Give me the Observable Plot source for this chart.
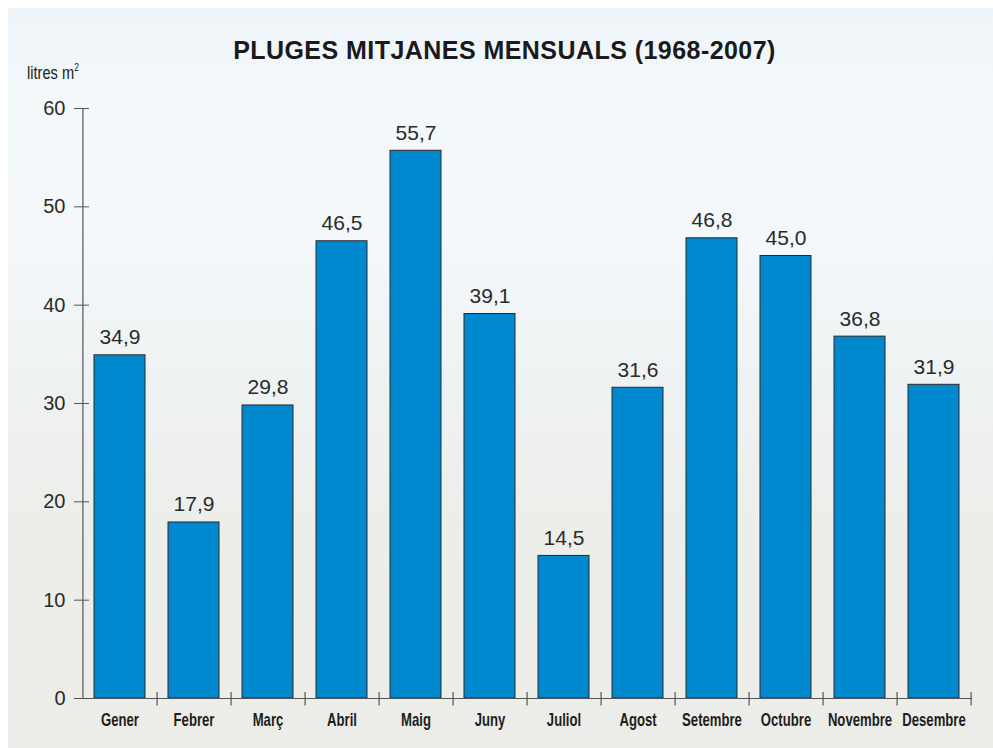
<!DOCTYPE html>
<html>
<head>
<meta charset="utf-8">
<script src="https://cdn.jsdelivr.net/npm/d3@7"></script>
<script src="https://cdn.jsdelivr.net/npm/@observablehq/plot@0.6"></script>
<style>
  html, body { margin: 0; padding: 0; background: #ffffff; }
  #wrap {
    position: absolute; left: 8px; top: 8px; width: 985px; height: 740px;
    background: linear-gradient(180deg, #eef4f8 0%, #f3f8fb 12%, #f4f8fb 30%, #eef2f2 50%, #eceee9 70%, #ecede8 100%);
    overflow: hidden;
  }
  #title {
    position: absolute; left: 4px; width: 985px; top: 27px; text-align: center;
    font-family: "Liberation Sans", Arial, sans-serif;
    font-weight: bold; font-size: 25px; color: #1a1a1a; letter-spacing: 0.45px;
    line-height: 30px;
  }
  #unit {
    position: absolute; left: 19px; top: 48px;
    font-family: "Liberation Sans", Arial, sans-serif;
    font-size: 19px; color: #222; line-height: 22px;
    transform: scaleX(0.77); transform-origin: left;
  }
  #unit sup { font-size: 11px; vertical-align: 8px; }
  #chart { position: absolute; left: 0; top: 0; }
</style>
</head>
<body>
<div id="wrap">
  <div id="chart"></div>
  <div id="title">PLUGES MITJANES MENSUALS (1968-2007)</div>
  <div id="unit">litres m<sup>2</sup></div>
</div>
<script>
const months = ["Gener", "Febrer", "Març", "Abril", "Maig", "Juny", "Juliol", "Agost", "Setembre", "Octubre", "Novembre", "Desembre"];
const rainfall = [34.9, 17.9, 29.8, 46.5, 55.7, 39.1, 14.5, 31.6, 46.8, 45.0, 36.8, 31.9];
const yTicks = [0, 10, 20, 30, 40, 50, 60];

const data = months.map((m, i) => ({month: m, value: rainfall[i]}));

const W = 985, H = 740, ML = 74, MR = 21, MT = 100, MB = 50;
const step = (W - ML - MR) / months.length;
const fmt = v => v.toFixed(1).replace(".", ",");
const sans = '"Liberation Sans", Arial, sans-serif';

const chart = Plot.plot({
  width: W,
  height: H,
  marginLeft: ML,
  marginRight: MR,
  marginTop: MT,
  marginBottom: MB,
  style: {background: "transparent", color: "#333", overflow: "visible"},
  x: {domain: months, paddingInner: 0.31, paddingOuter: 0.155, axis: null},
  y: {domain: [0, 60], axis: null},
  marks: [
    Plot.barY(data, {x: "month", y: "value", fill: "#0088cf", stroke: "#2a2a2a", strokeWidth: 1}),
    Plot.ruleY([0], {stroke: "#555", strokeWidth: 1.2}),
    Plot.ruleX([months[0]], {x: d => d, dx: -step / 2, y1: 0, y2: 60, stroke: "#555", strokeWidth: 1.2}),
    Plot.ruleX(months, {x: d => d, dx: step / 2, y1: -0.75, y2: 0.6, stroke: "#555", strokeWidth: 1.2}),
    Plot.axisY(yTicks, {
      label: null,
      tickSize: 15, dx: 7, tickPadding: 9, stroke: "#555",
      fontSize: 20, fill: "#2a2a2a",
      fontFamily: sans,
      tickFormat: d => d
    }),
    Plot.axisX(months, {
      label: null, className: "mlab",
      tickSize: 0, tickPadding: 15, fontSize: 18, fontWeight: "bold",
      fontFamily: sans, fill: "#1e1e1e"
    }),
    Plot.text(data, {
      x: "month", y: "value", text: d => fmt(d.value), dy: -11, lineAnchor: "bottom",
      fontSize: 21, fill: "#2a2a2a", fontFamily: sans
    })
  ]
});
document.getElementById("chart").appendChild(chart);
// condense the month labels horizontally around their anchor
chart.querySelectorAll(".mlab text").forEach(t => {
  const tr = t.getAttribute("transform") || "";
  t.setAttribute("transform", tr + " scale(0.73,1)");
});
</script>
</body>
</html>
